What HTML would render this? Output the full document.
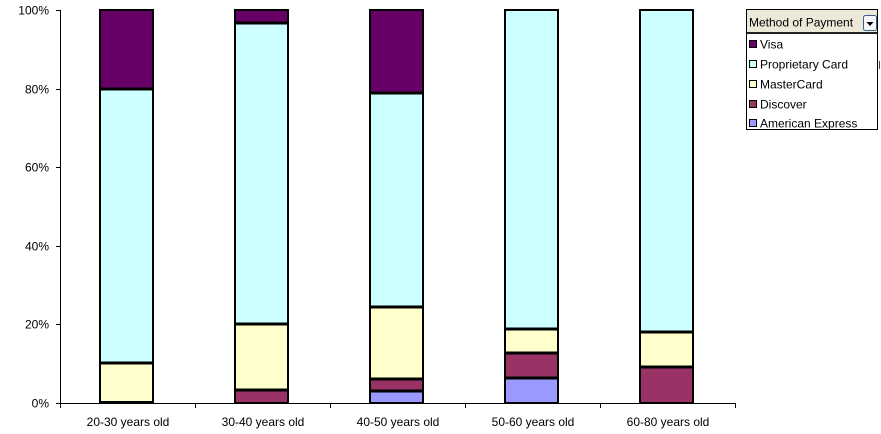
<!DOCTYPE html>
<html>
<head>
<meta charset="utf-8">
<style>
html,body{margin:0;padding:0;background:#fff;}
svg{display:block;}
text{font-family:"Liberation Sans",Arial,sans-serif;fill:#000;}
</style>
</head>
<body>
<svg width="881" height="434" viewBox="0 0 881 434" xmlns="http://www.w3.org/2000/svg">
  <rect x="0" y="0" width="881" height="434" fill="#fff"/>

  <!-- Bar 1 -->
  <g>
    <rect x="100" y="363" width="53" height="40" fill="#FFFFCC"/>
    <rect x="100" y="89" width="53" height="274" fill="#CCFFFF"/>
    <rect x="100" y="10" width="53" height="79" fill="#660066"/>
    <line x1="100" y1="363" x2="153" y2="363" stroke="#000" stroke-width="3"/>
    <line x1="100" y1="89" x2="153" y2="89" stroke="#000" stroke-width="3"/>
    <line x1="100" y1="402" x2="153" y2="402" stroke="#000" stroke-width="2"/>
    <rect x="100" y="10" width="53" height="393" fill="none" stroke="#000" stroke-width="2"/>
  </g>
  <!-- Bar 2 -->
  <g>
    <rect x="235" y="390" width="53" height="13" fill="#993366"/>
    <rect x="235" y="324" width="53" height="66" fill="#FFFFCC"/>
    <rect x="235" y="23" width="53" height="301" fill="#CCFFFF"/>
    <rect x="235" y="10" width="53" height="13" fill="#660066"/>
    <line x1="235" y1="390" x2="288" y2="390" stroke="#000" stroke-width="3"/>
    <line x1="235" y1="324" x2="288" y2="324" stroke="#000" stroke-width="3"/>
    <line x1="235" y1="23" x2="288" y2="23" stroke="#000" stroke-width="3"/>
    <rect x="235" y="10" width="53" height="393" fill="none" stroke="#000" stroke-width="2"/>
  </g>
  <!-- Bar 3 -->
  <g>
    <rect x="370" y="391" width="53" height="12" fill="#9999FF"/>
    <rect x="370" y="379" width="53" height="12" fill="#993366"/>
    <rect x="370" y="307" width="53" height="72" fill="#FFFFCC"/>
    <rect x="370" y="93" width="53" height="214" fill="#CCFFFF"/>
    <rect x="370" y="10" width="53" height="83" fill="#660066"/>
    <line x1="370" y1="391" x2="423" y2="391" stroke="#000" stroke-width="3"/>
    <line x1="370" y1="379" x2="423" y2="379" stroke="#000" stroke-width="3"/>
    <line x1="370" y1="307" x2="423" y2="307" stroke="#000" stroke-width="3"/>
    <line x1="370" y1="93" x2="423" y2="93" stroke="#000" stroke-width="3"/>
    <rect x="370" y="10" width="53" height="393" fill="none" stroke="#000" stroke-width="2"/>
  </g>
  <!-- Bar 4 -->
  <g>
    <rect x="505" y="378" width="53" height="25" fill="#9999FF"/>
    <rect x="505" y="353" width="53" height="25" fill="#993366"/>
    <rect x="505" y="329" width="53" height="24" fill="#FFFFCC"/>
    <rect x="505" y="10" width="53" height="319" fill="#CCFFFF"/>
    <line x1="505" y1="378" x2="558" y2="378" stroke="#000" stroke-width="3"/>
    <line x1="505" y1="353" x2="558" y2="353" stroke="#000" stroke-width="3"/>
    <line x1="505" y1="329" x2="558" y2="329" stroke="#000" stroke-width="3"/>
    <rect x="505" y="10" width="53" height="393" fill="none" stroke="#000" stroke-width="2"/>
  </g>
  <!-- Bar 5 -->
  <g>
    <rect x="640" y="367" width="53" height="36" fill="#993366"/>
    <rect x="640" y="332" width="53" height="35" fill="#FFFFCC"/>
    <rect x="640" y="10" width="53" height="322" fill="#CCFFFF"/>
    <line x1="640" y1="367" x2="693" y2="367" stroke="#000" stroke-width="3"/>
    <line x1="640" y1="332" x2="693" y2="332" stroke="#000" stroke-width="3"/>
    <rect x="640" y="10" width="53" height="393" fill="none" stroke="#000" stroke-width="2"/>
  </g>

  <!-- Axes -->
  <g stroke="#000" stroke-width="1" shape-rendering="crispEdges">
    <line x1="60.5" y1="10" x2="60.5" y2="404"/>
    <line x1="60" y1="403.5" x2="736" y2="403.5"/>
    <line x1="56" y1="10.5" x2="60" y2="10.5"/>
    <line x1="56" y1="89.5" x2="60" y2="89.5"/>
    <line x1="56" y1="167.5" x2="60" y2="167.5"/>
    <line x1="56" y1="246.5" x2="60" y2="246.5"/>
    <line x1="56" y1="324.5" x2="60" y2="324.5"/>
    <line x1="56" y1="403.5" x2="60" y2="403.5"/>
    <line x1="60.5" y1="403" x2="60.5" y2="408"/>
    <line x1="195.5" y1="403" x2="195.5" y2="408"/>
    <line x1="330.5" y1="403" x2="330.5" y2="408"/>
    <line x1="465.5" y1="403" x2="465.5" y2="408"/>
    <line x1="600.5" y1="403" x2="600.5" y2="408"/>
    <line x1="735.5" y1="403" x2="735.5" y2="408"/>
  </g>

  <!-- Y labels -->
  <g font-size="12" text-anchor="end">
    <text x="49" y="14.5">100%</text>
    <text x="49" y="93.5">80%</text>
    <text x="49" y="171.5">60%</text>
    <text x="49" y="250.5">40%</text>
    <text x="49" y="328.5">20%</text>
    <text x="49" y="407.5">0%</text>
  </g>

  <!-- X labels -->
  <g font-size="12" text-anchor="middle">
    <text x="128" y="426">20-30 years old</text>
    <text x="263" y="426">30-40 years old</text>
    <text x="398" y="426">40-50 years old</text>
    <text x="533" y="426">50-60 years old</text>
    <text x="668" y="426">60-80 years old</text>
  </g>

  <!-- stray mark -->
  <line x1="879.5" y1="61" x2="879.5" y2="69" stroke="#444" stroke-width="1"/>

  <!-- Legend -->
  <g>
    <rect x="746.5" y="9.5" width="131" height="120" fill="#fff" stroke="#000" stroke-width="1"/>
    <rect x="747" y="10" width="130" height="22" fill="#ECE9D8"/>
    <line x1="747" y1="33" x2="877" y2="33" stroke="#222" stroke-width="2"/>
    <text x="749" y="26.5" font-size="12">Method of Payment</text>
    <rect x="863.5" y="15.5" width="13" height="15" rx="2" ry="2" fill="#F4F6FA" stroke="#3D5F93" stroke-width="1"/>
    <polygon points="866.5,22 873.5,22 870,26" fill="#000"/>

    <rect x="749.5" y="40.5" width="7" height="7" fill="#660066" stroke="#000"/>
    <text x="760" y="48.5" font-size="12">Visa</text>
    <rect x="749.5" y="60.5" width="7" height="7" fill="#CCFFFF" stroke="#000"/>
    <text x="760" y="68.5" font-size="12">Proprietary Card</text>
    <rect x="749.5" y="80.5" width="7" height="7" fill="#FFFFCC" stroke="#000"/>
    <text x="760" y="88.5" font-size="12">MasterCard</text>
    <rect x="749.5" y="100.5" width="7" height="7" fill="#993366" stroke="#000"/>
    <text x="760" y="108.5" font-size="12">Discover</text>
    <rect x="749.5" y="119.5" width="7" height="7" fill="#9999FF" stroke="#000"/>
    <text x="760" y="127.5" font-size="12">American Express</text>
  </g>
</svg>
</body>
</html>
